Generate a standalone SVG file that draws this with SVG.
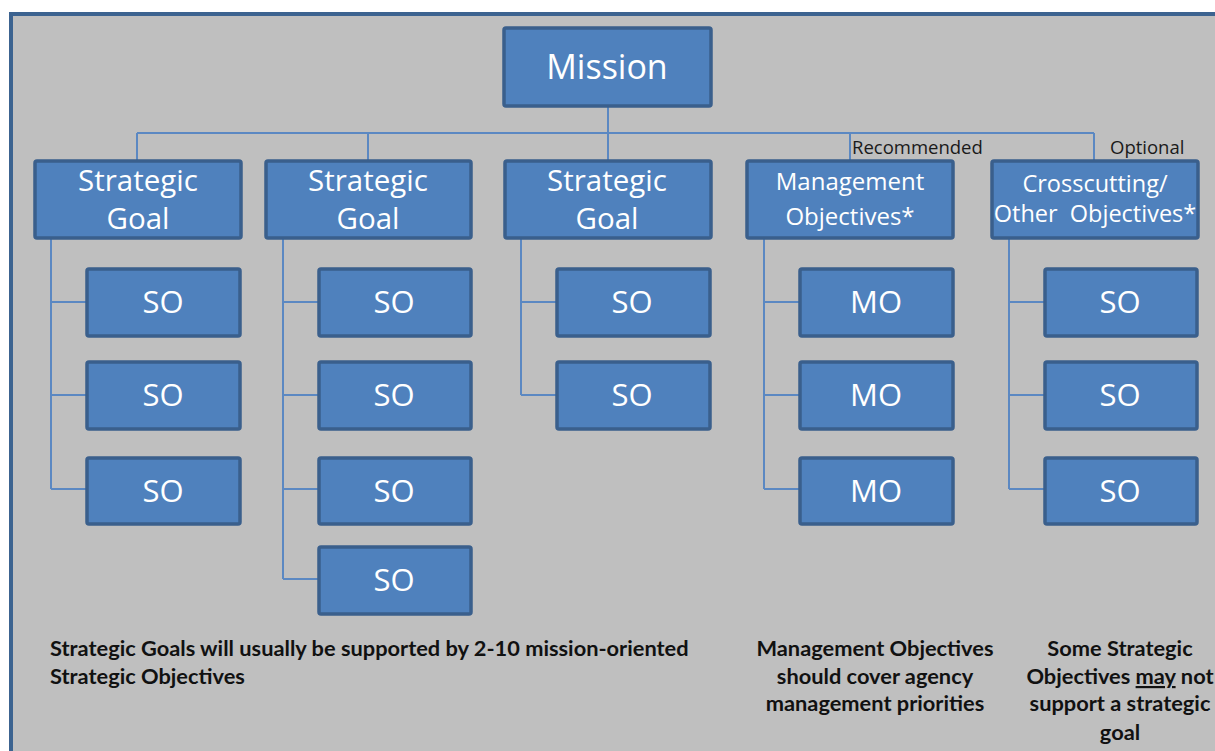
<svg xmlns="http://www.w3.org/2000/svg" width="1215" height="751" viewBox="0 0 1215 751">
<style>
.bx{fill:#4f81bd;stroke:#3a5f8c;stroke-width:3.5}
.t{fill:#fff;font-family:"Open Sans",sans-serif;text-anchor:middle}
.big{font-size:34px}
.sg{font-size:29.5px}
.so{font-size:31px}
.sm{font-size:24px}
.sm2{font-size:23.5px}
.c{fill:none;stroke:#5b88c2;stroke-width:2}
.lab{font-family:"Open Sans",sans-serif;font-size:18.5px;fill:#1a1a1a}
.note{font-family:Lato,"Liberation Sans",sans-serif;font-weight:bold;font-size:21.8px;fill:#111}
</style>
<rect x="0" y="0" width="1215" height="751" fill="#ffffff"/>
<rect x="11" y="14" width="1220" height="760" fill="#bfbfbf" stroke="#3c6390" stroke-width="4"/>
<g id="connectors">
<path class="c" d="M608 107V160M137 133H1094M137 133V160M368 133V160M850 133V160M1094 133V160"/>
<path class="c" d="M51 239V489M51 302H87M51 395H87M51 489H87"/>
<path class="c" d="M283 239V579M283 302H318M283 395H318M283 489H318M283 579H318"/>
<path class="c" d="M521 239V395M521 302H556M521 395H556"/>
<path class="c" d="M764 239V489M764 302H799M764 395H799M764 489H799"/>
<path class="c" d="M1009 239V489M1009 302H1044M1009 395H1044M1009 489H1044"/>
</g>
<g id="mission"><rect class="bx" x="504" y="28" width="207" height="78" rx="2"/><text class="t big" x="607" y="79">Mission</text></g>
<g id="sg1"><rect class="bx" x="35" y="161" width="206" height="77" rx="2"/><text class="t sg" x="138" y="191">Strategic</text><text class="t sg" x="138" y="229">Goal</text></g>
<g id="sg2"><rect class="bx" x="266" y="161" width="205" height="77" rx="2"/><text class="t sg" x="368" y="191">Strategic</text><text class="t sg" x="368" y="229">Goal</text></g>
<g id="sg3"><rect class="bx" x="505" y="161" width="206" height="77" rx="2"/><text class="t sg" x="607" y="191">Strategic</text><text class="t sg" x="607" y="229">Goal</text></g>
<g id="mgmt"><rect class="bx" x="747" y="161" width="206" height="77" rx="2"/><text class="t sm" x="850" y="190">Management</text><text class="t sm" x="850" y="225">Objectives*</text></g>
<g id="cross"><rect class="bx" x="992" y="161" width="206" height="77" rx="2"/><text class="t sm2" x="1095" y="192">Crosscutting/</text><text class="t sm2" x="1095" y="222" xml:space="preserve">Other  Objectives*</text></g>
<text class="lab" x="852" y="154">Recommended</text>
<text class="lab" x="1110" y="154">Optional</text>
<g id="so1a"><rect class="bx" x="87" y="269" width="153" height="67" rx="2"/><text class="t so" x="163" y="313">SO</text></g>
<g id="so1b"><rect class="bx" x="87" y="362" width="153" height="67" rx="2"/><text class="t so" x="163" y="406">SO</text></g>
<g id="so1c"><rect class="bx" x="87" y="458" width="153" height="66" rx="2"/><text class="t so" x="163" y="502">SO</text></g>
<g id="so2a"><rect class="bx" x="319" y="269" width="152" height="67" rx="2"/><text class="t so" x="394" y="313">SO</text></g>
<g id="so2b"><rect class="bx" x="319" y="362" width="152" height="67" rx="2"/><text class="t so" x="394" y="406">SO</text></g>
<g id="so2c"><rect class="bx" x="319" y="458" width="152" height="66" rx="2"/><text class="t so" x="394" y="502">SO</text></g>
<g id="so2d"><rect class="bx" x="319" y="547" width="152" height="67" rx="2"/><text class="t so" x="394" y="591">SO</text></g>
<g id="so3a"><rect class="bx" x="557" y="269" width="153" height="67" rx="2"/><text class="t so" x="632" y="313">SO</text></g>
<g id="so3b"><rect class="bx" x="557" y="362" width="153" height="67" rx="2"/><text class="t so" x="632" y="406">SO</text></g>
<g id="mo1"><rect class="bx" x="800" y="269" width="153" height="67" rx="2"/><text class="t so" x="876" y="313">MO</text></g>
<g id="mo2"><rect class="bx" x="800" y="362" width="153" height="67" rx="2"/><text class="t so" x="876" y="406">MO</text></g>
<g id="mo3"><rect class="bx" x="800" y="458" width="153" height="66" rx="2"/><text class="t so" x="876" y="502">MO</text></g>
<g id="co1"><rect class="bx" x="1045" y="269" width="152" height="67" rx="2"/><text class="t so" x="1120" y="313">SO</text></g>
<g id="co2"><rect class="bx" x="1045" y="362" width="152" height="67" rx="2"/><text class="t so" x="1120" y="406">SO</text></g>
<g id="co3"><rect class="bx" x="1045" y="458" width="152" height="66" rx="2"/><text class="t so" x="1120" y="502">SO</text></g>
<g id="notes">
<text class="note" x="50" y="656">Strategic Goals will usually be supported by 2-10 mission-oriented</text>
<text class="note" x="50" y="684">Strategic Objectives</text>
<text class="note" x="875" y="656" text-anchor="middle">Management Objectives</text>
<text class="note" x="875" y="684" text-anchor="middle">should cover agency</text>
<text class="note" x="875" y="711" text-anchor="middle">management priorities</text>
<text class="note" x="1120" y="656" text-anchor="middle">Some Strategic</text>
<text class="note" x="1120" y="684" text-anchor="middle">Objectives <tspan text-decoration="underline">may</tspan> not</text>
<text class="note" x="1120" y="711" text-anchor="middle">support a strategic</text>
<text class="note" x="1120" y="740" text-anchor="middle">goal</text>
</g>
</svg>
